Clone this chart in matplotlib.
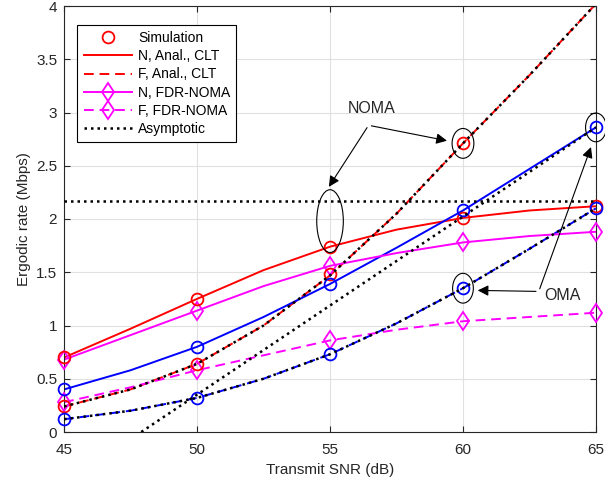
import matplotlib
matplotlib.use("Agg")
import matplotlib.pyplot as plt
from matplotlib.patches import Ellipse

plt.rcParams['font.family'] = ['Liberation Sans', 'DejaVu Sans']

# Data
snr_fine = [45, 47.5, 50, 52.5, 55, 57.5, 60, 62.5, 65]
snr_sim = [45, 50, 55, 60, 65]

noma_near_anal = [0.70, 0.97, 1.25, 1.52, 1.74, 1.90, 2.01, 2.08, 2.12]
noma_far_anal = [0.24, 0.40, 0.64, 1.00, 1.47, 2.05, 2.71, 3.35, 4.02]
oma_near_anal = [0.40, 0.58, 0.80, 1.08, 1.39, 1.73, 2.08, 2.47, 2.86]
oma_far_anal = [0.12, 0.20, 0.32, 0.50, 0.73, 1.02, 1.35, 1.72, 2.10]
fdr_near = [0.68, 0.91, 1.14, 1.37, 1.56, 1.68, 1.78, 1.84, 1.88]
fdr_far = [0.28, 0.42, 0.58, 0.72, 0.86, 0.96, 1.04, 1.08, 1.12]

noma_near_sim = [0.70, 1.25, 1.74, 2.01, 2.12]
noma_far_sim = [0.24, 0.64, 1.48, 2.71]
oma_near_sim = [0.40, 0.80, 1.39, 2.08, 2.86]
oma_far_sim = [0.12, 0.32, 0.73, 1.35, 2.10]
fdr_near_mk = [0.68, 1.14, 1.56, 1.78, 1.88]
fdr_far_mk = [0.28, 0.58, 0.86, 1.04, 1.12]

asym_ceiling = 2.17
asym_oma_near_x = [47.9, 65]
asym_oma_near_y = [0.0, 2.86]

xticks = [45, 50, 55, 60, 65]
yticks = [0, 0.5, 1, 1.5, 2, 2.5, 3, 3.5, 4]
yticklabels = ['0', '0.5', '1', '1.5', '2', '2.5', '3', '3.5', '4']

txt = '#262626'
fig = plt.figure(figsize=(6.05, 4.8), dpi=100)
ax = fig.add_axes([0.106, 0.1, 0.879, 0.8875])

dot = (0, (1, 1.6))
dash = (0, (5, 3))
lw = 1.4
ms = 8.5
mk = dict(ls='none', mfc='none', ms=ms, mew=1.3, clip_on=False, zorder=4)

# lines
ax.plot(snr_fine, noma_near_anal, color='red', lw=lw)
ax.plot(snr_fine, noma_far_anal, color='red', lw=lw, ls=dash)
ax.plot(snr_fine, oma_near_anal, color='blue', lw=lw)
ax.plot(snr_fine, oma_far_anal, color='blue', lw=lw, ls=dash)
ax.plot(snr_fine, fdr_near, color='magenta', lw=lw)
ax.plot(snr_fine, fdr_far, color='magenta', lw=lw, ls=dash)

# markers
ax.plot(snr_sim, fdr_near_mk, marker='d', mec='magenta', **{**mk, 'ms': ms + 1})
ax.plot(snr_sim, fdr_far_mk, marker='d', mec='magenta', **{**mk, 'ms': ms + 1})
ax.plot(snr_sim, noma_near_sim, marker='o', mec='red', **mk)
ax.plot(snr_sim[:4], noma_far_sim, marker='o', mec='red', **mk)
ax.plot(snr_sim, oma_near_sim, marker='o', mec='blue', **mk)
ax.plot(snr_sim, oma_far_sim, marker='o', mec='blue', **mk)

# asymptotic
ax.plot([45, 65], [asym_ceiling, asym_ceiling], color='black', lw=1.8, ls=dot, zorder=5)
ax.plot(snr_fine, noma_far_anal, color='black', lw=1.8, ls=dot, zorder=5)
ax.plot(snr_fine, oma_far_anal, color='black', lw=1.8, ls=dot, zorder=5)
ax.plot(asym_oma_near_x, asym_oma_near_y, color='black', lw=1.8, ls=dot, zorder=5)

# ellipses
for (cx, cy, w, h) in [(55, 1.98, 1.0, 0.59), (60, 2.71, 0.82, 0.28),
                       (65, 2.86, 0.78, 0.27), (60, 1.35, 0.78, 0.28)]:
    ax.add_patch(Ellipse((cx, cy), w, h, fill=False, ec='black', lw=0.8, clip_on=False, zorder=6))

# annotations
ap = dict(arrowstyle='-|>', color='black', lw=0.8, mutation_scale=16)
ax.annotate('', xy=(54.9, 2.28), xytext=(56.45, 2.88), arrowprops=ap)
ax.annotate('', xy=(59.5, 2.73), xytext=(56.45, 2.88), arrowprops=ap)
ax.text(56.55, 2.97, 'NOMA', fontsize=11.5, ha='center', va='bottom', color=txt)
ax.annotate('', xy=(60.45, 1.33), xytext=(62.85, 1.32), arrowprops=ap)
ax.annotate('', xy=(64.85, 2.7), xytext=(62.85, 1.32), arrowprops=ap)
ax.text(63.05, 1.28, 'OMA', fontsize=11.5, ha='left', va='center', color=txt)

# legend handles
h1, = ax.plot([], [], ls='none', marker='o', mfc='none', mec='red', ms=ms, mew=1.3, label='Simulation')
h2, = ax.plot([], [], color='red', lw=lw, label='N, Anal., CLT')
h3, = ax.plot([], [], color='red', lw=lw, ls=dash, label='F, Anal., CLT')
h4, = ax.plot([], [], color='magenta', lw=lw, marker='d', mfc='none', mec='magenta', ms=ms + 1, mew=1.3, label='N, FDR-NOMA')
h5, = ax.plot([], [], color='magenta', lw=lw, ls=dash, marker='d', mfc='none', mec='magenta', ms=ms + 1, mew=1.3, label='F, FDR-NOMA')
h6, = ax.plot([], [], color='black', lw=1.8, ls=dot, label='Asymptotic')
leg = ax.legend(handles=[h1, h2, h3, h4, h5, h6], loc='upper left', bbox_to_anchor=(0.012, 0.972),
                fontsize=10, frameon=True, fancybox=False, edgecolor='black', framealpha=1,
                handlelength=3.5, borderpad=0.45, labelspacing=0.3, handletextpad=0.4)
leg.get_frame().set_linewidth(0.8)

ax.set_xlim(45, 65)
ax.set_ylim(0, 4)
ax.set_xticks(xticks)
ax.set_yticks(yticks)
ax.set_yticklabels(yticklabels)
ax.tick_params(direction='in', labelsize=11, top=True, right=True, length=4, colors=txt)
ax.tick_params(axis='x', pad=8)
ax.tick_params(axis='y', pad=5)
ax.grid(True, color='#e0e0e0', lw=0.8)
ax.set_axisbelow(True)
for s in ax.spines.values():
    s.set_color(txt)
    s.set_linewidth(0.8)
ax.set_xlabel('Transmit SNR (dB)', fontsize=11, labelpad=4, color=txt)
ax.set_ylabel('Ergodic rate (Mbps)', fontsize=11, labelpad=4, color=txt)

fig.savefig('out.png', dpi=100)
